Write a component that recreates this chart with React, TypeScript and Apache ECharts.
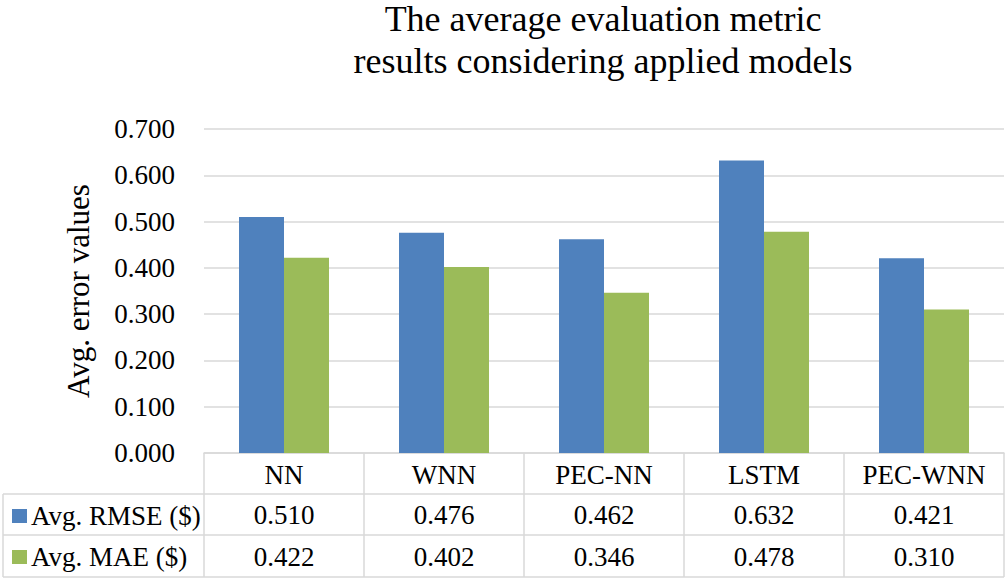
import React, { useEffect, useRef } from "react";
import * as echarts from "echarts";

const categories = ["NN", "WNN", "PEC-NN", "LSTM", "PEC-WNN"];
const rmseValues = [0.51, 0.476, 0.462, 0.632, 0.421];
const maeValues = [0.422, 0.402, 0.346, 0.478, 0.31];
const seriesNames = ["Avg. RMSE ($)", "Avg. MAE ($)"];
const yTicks = { min: 0, max: 0.7, interval: 0.1 };
const titleLines = ["The average evaluation metric", "results considering applied models"];
const yAxisName = "Avg. error values";

const FONT = "'Liberation Serif', 'Times New Roman', serif";
const BLUE = "#4F81BD";
const GREEN = "#9BBB59";
const LINE = "#D9D9D9";
const FS = 27;

export default function App() {
  const ref = useRef<HTMLDivElement>(null);
  useEffect(() => {
    if (!ref.current) return;
    const chart = echarts.init(ref.current, null, { renderer: "svg" });
    const fmt = (v: number) => v.toFixed(3);
    const gridLeft = 204;
    const gridRight = 3;
    const gridTop = 129;
    const axisY = 453;
    const gridBottom = 582 - axisY;
    const tableLeft = 3;
    const tableRight = 1007 - gridRight;
    const rowLines = [494, 535, 577];
    const titleStyle = { fontFamily: FONT, fontSize: 36, fontWeight: "normal", color: "#000", lineHeight: 34 };
    chart.setOption({
      animation: false,
      textStyle: { fontFamily: FONT, color: "#000" },
      title: {
        text: titleLines[0],
        subtext: titleLines[1],
        left: 603,
        top: 2,
        padding: 0,
        itemGap: 6,
        textAlign: "center",
        textStyle: titleStyle,
        subtextStyle: titleStyle,
      },
      legend: {
        orient: "vertical",
        left: 12,
        top: 502,
        padding: 0,
        itemWidth: 15,
        itemHeight: 14,
        itemGap: 13,
        icon: "rect",
        data: seriesNames,
        textStyle: { fontFamily: FONT, fontSize: FS, color: "#000", lineHeight: 28, padding: [0, 0, 0, -1] },
      },
      grid: { left: gridLeft, right: gridRight, top: gridTop, bottom: gridBottom, containLabel: false },
      xAxis: [
        {
          type: "category",
          data: categories,
          position: "bottom",
          axisLine: { show: true, lineStyle: { color: LINE, width: 1.5 } },
          axisTick: { show: true, length: 577 - axisY, interval: 0, lineStyle: { color: LINE, width: 1.5 } },
          axisLabel: { fontFamily: FONT, fontSize: FS, color: "#000", margin: 8, interval: 0 },
        },
        {
          type: "category",
          data: rmseValues.map(fmt),
          position: "bottom",
          offset: rowLines[0] - axisY,
          axisLine: { show: false },
          axisTick: { show: false },
          axisLabel: { fontFamily: FONT, fontSize: FS, color: "#000", margin: 7, interval: 0 },
        },
        {
          type: "category",
          data: maeValues.map(fmt),
          position: "bottom",
          offset: rowLines[1] - axisY,
          axisLine: { show: false },
          axisTick: { show: false },
          axisLabel: { fontFamily: FONT, fontSize: FS, color: "#000", margin: 8, interval: 0 },
        },
      ],
      yAxis: {
        type: "value",
        min: yTicks.min,
        max: yTicks.max,
        interval: yTicks.interval,
        name: yAxisName,
        nameLocation: "middle",
        nameGap: 110,
        nameRotate: 90,
        nameTextStyle: { fontFamily: FONT, fontSize: 31, color: "#000" },
        axisLine: { show: false },
        axisTick: { show: false },
        splitLine: { lineStyle: { color: LINE, width: 1.5 } },
        axisLabel: { fontFamily: FONT, fontSize: FS, color: "#000", margin: 29, formatter: fmt },
      },
      series: [
        {
          name: seriesNames[0],
          type: "bar",
          data: rmseValues,
          itemStyle: { color: BLUE },
          barGap: "0%",
          barCategoryGap: "43.75%",
        },
        {
          name: seriesNames[1],
          type: "bar",
          data: maeValues,
          itemStyle: { color: GREEN },
          barGap: "0%",
          barCategoryGap: "43.75%",
        },
      ],
      graphic: [
        ...rowLines.map((y) => ({
          type: "line",
          shape: { x1: tableLeft, y1: y, x2: tableRight, y2: y },
          style: { stroke: LINE, lineWidth: 1.5 },
          silent: true,
        })),
        {
          type: "line",
          shape: { x1: tableLeft, y1: rowLines[0], x2: tableLeft, y2: rowLines[2] },
          style: { stroke: LINE, lineWidth: 1.5 },
          silent: true,
        },
      ],
    });
    return () => chart.dispose();
  }, []);
  return (
    <div
      ref={ref}
      style={{ position: "fixed", left: 0, top: 0, width: 1007, height: 582, background: "#fff" }}
    />
  );
}
